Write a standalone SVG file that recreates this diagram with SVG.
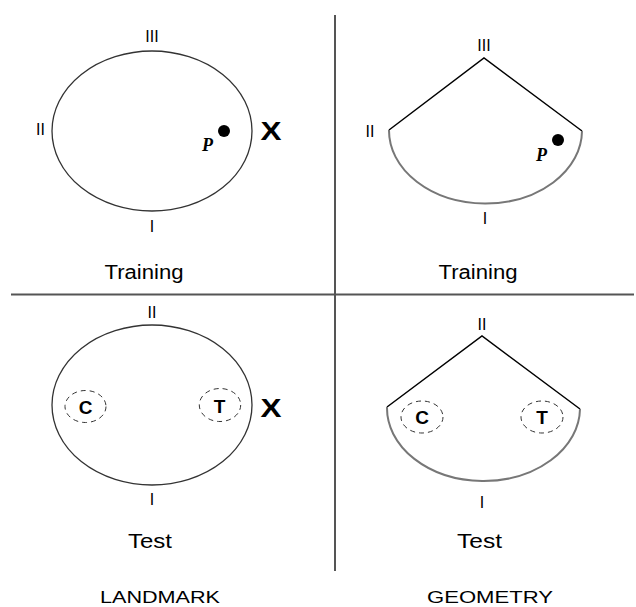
<svg xmlns="http://www.w3.org/2000/svg" width="636" height="607" viewBox="0 0 636 607">
<style>
.t{font-family:"Liberation Sans",Arial,sans-serif;fill:#000;text-anchor:middle}
.num{font-size:16px}
.lbl{font-size:20px}
.cap{font-size:17px}
.big{font-size:25px;font-weight:bold}
.ct{font-size:19px;font-weight:bold}
.p{font-family:"Liberation Serif","Times New Roman",serif;font-style:italic;font-weight:bold;font-size:18px;fill:#000}
.arena{fill:none;stroke:#333;stroke-width:1.3}
.wall{fill:none;stroke:#000;stroke-width:1.5}
.curve{fill:none;stroke:#777;stroke-width:2}
.dash{fill:none;stroke:#333;stroke-width:1;stroke-dasharray:5 4}
.div{stroke:#555;stroke-width:2}
</style>
<g id="dividers">
<line class="div" x1="335" y1="15" x2="335" y2="571"/>
<line class="div" x1="11" y1="294.5" x2="634" y2="294.5"/>
</g>
<g id="landmark-training">
<ellipse class="arena" cx="152" cy="131" rx="100" ry="80"/>
<text class="t num" x="152" y="42">III</text>
<text class="t num" x="40.5" y="135">II</text>
<text class="t num" x="152" y="232">I</text>
<circle cx="224" cy="131" r="6" fill="#000"/>
<text class="p" x="202" y="151">P</text>
<text class="t big" x="271" y="140" textLength="21" lengthAdjust="spacingAndGlyphs">X</text>
<text class="t lbl" x="144" y="279" textLength="79" lengthAdjust="spacingAndGlyphs">Training</text>
</g>
<g id="geometry-training">
<path class="wall" d="M389 130 L484 58 L582 131"/>
<path class="curve" d="M389 130 A96.5 73 0 0 0 582 131"/>
<text class="t num" x="484" y="51">III</text>
<text class="t num" x="370" y="137">II</text>
<text class="t num" x="485" y="224">I</text>
<circle cx="558" cy="140" r="6" fill="#000"/>
<text class="p" x="536" y="161">P</text>
<text class="t lbl" x="478" y="279" textLength="79" lengthAdjust="spacingAndGlyphs">Training</text>
</g>
<g id="landmark-test">
<ellipse class="arena" cx="152" cy="405" rx="100" ry="80"/>
<text class="t num" x="152" y="318">II</text>
<text class="t num" x="152" y="505">I</text>
<ellipse class="dash" cx="85.5" cy="406.5" rx="20.5" ry="16"/>
<text class="t ct" x="85.5" y="413.5">C</text>
<ellipse class="dash" cx="220" cy="405" rx="20.7" ry="16.5"/>
<text class="t ct" x="219.5" y="412.5">T</text>
<text class="t big" x="271" y="417" textLength="21" lengthAdjust="spacingAndGlyphs">X</text>
<text class="t lbl" x="150" y="548" textLength="44" lengthAdjust="spacingAndGlyphs">Test</text>
</g>
<g id="geometry-test">
<path class="wall" d="M387 407 L482 336 L580 409"/>
<path class="curve" d="M387 407 A96.5 73 0 0 0 580 409"/>
<text class="t num" x="482" y="330">II</text>
<text class="t num" x="482" y="508">I</text>
<ellipse class="dash" cx="422" cy="417" rx="21" ry="16"/>
<text class="t ct" x="422" y="424">C</text>
<ellipse class="dash" cx="542" cy="417" rx="21" ry="16"/>
<text class="t ct" x="542" y="424">T</text>
<text class="t lbl" x="479.5" y="548" textLength="45" lengthAdjust="spacingAndGlyphs">Test</text>
</g>
<g id="column-labels">
<text class="t cap" x="160" y="603" textLength="120" lengthAdjust="spacingAndGlyphs">LANDMARK</text>
<text class="t cap" x="490" y="603" textLength="126" lengthAdjust="spacingAndGlyphs">GEOMETRY</text>
</g>
</svg>
